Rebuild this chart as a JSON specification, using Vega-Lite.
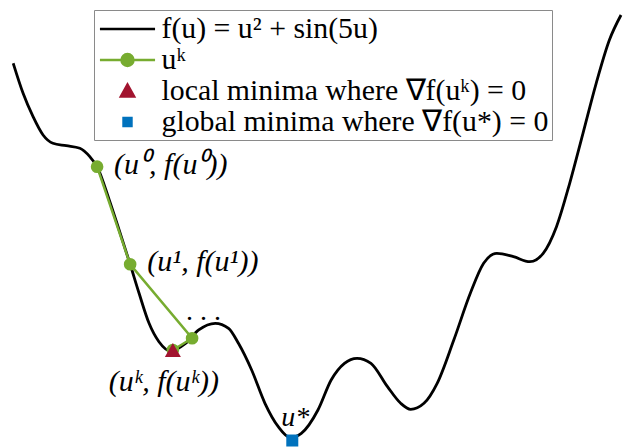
{
  "$schema": "https://vega.github.io/schema/vega-lite/v6.json",
  "width": 627,
  "height": 448,
  "autosize": {"type": "fit", "contains": "padding"},
  "padding": 0,
  "background": "white",
  "config": {"view": {"stroke": null}},
  "datasets": {
    "curve": [
      {"u": -2.955, "f": 8.565}, {"u": -2.860, "f": 7.805}, {"u": -2.764, "f": 7.213},
      {"u": -2.668, "f": 6.749}, {"u": -2.573, "f": 6.539}, {"u": -2.445, "f": 6.478},
      {"u": -2.314, "f": 6.413}, {"u": -2.218, "f": 6.200}, {"u": -2.148, "f": 5.947},
      {"u": -2.031, "f": 5.104}, {"u": -1.936, "f": 4.344}, {"u": -1.830, "f": 3.476},
      {"u": -1.744, "f": 2.742}, {"u": -1.648, "f": 1.982}, {"u": -1.553, "f": 1.516},
      {"u": -1.441, "f": 1.281}, {"u": -1.297, "f": 1.476}, {"u": -1.170, "f": 1.813},
      {"u": -1.011, "f": 1.982}, {"u": -0.883, "f": 1.856}, {"u": -0.788, "f": 1.476},
      {"u": -0.661, "f": 0.800}, {"u": -0.533, "f": -0.043}, {"u": -0.405, "f": -0.635},
      {"u": -0.291, "f": -0.909}, {"u": -0.183, "f": -0.803}, {"u": -0.023, "f": -0.213},
      {"u": 0.104, "f": 0.547}, {"u": 0.232, "f": 0.970}, {"u": 0.353, "f": 1.096},
      {"u": 0.487, "f": 0.970}, {"u": 0.646, "f": 0.377}, {"u": 0.773, "f": -0.043},
      {"u": 0.869, "f": -0.195}, {"u": 0.997, "f": -0.043}, {"u": 1.124, "f": 0.463},
      {"u": 1.284, "f": 1.559}, {"u": 1.443, "f": 2.742}, {"u": 1.571, "f": 3.501},
      {"u": 1.698, "f": 3.754}, {"u": 1.858, "f": 3.668}, {"u": 2.016, "f": 3.542},
      {"u": 2.144, "f": 3.754}, {"u": 2.272, "f": 4.428}, {"u": 2.399, "f": 5.527},
      {"u": 2.527, "f": 6.792}, {"u": 2.654, "f": 8.058}, {"u": 2.781, "f": 9.154},
      {"u": 2.893, "f": 9.787}
    ],
    "markers": [
      {"k": 0, "u": -2.148, "f": 5.947, "series": "uᵏ", "note": "(u⁰, f(u⁰))"},
      {"k": 1, "u": -1.830, "f": 3.476, "series": "uᵏ", "note": "(u¹, f(u¹))"},
      {"k": 2, "u": -1.234, "f": 1.603, "series": "uᵏ", "note": ". . ."},
      {"k": 3, "u": -1.419, "f": 1.306, "series": "uᵏ", "note": "(uᵏ, f(uᵏ))"},
      {"k": 4, "u": -1.419, "f": 1.306, "series": "local minima where ∇f(uᵏ) = 0", "note": ""},
      {"k": 5, "u": -0.270, "f": -0.985, "series": "global minima where ∇f(u*) = 0", "note": "u*"}
    ]
  },
  "encoding": {
    "x": {"field": "u", "type": "quantitative", "axis": null,
          "scale": {"domain": [-3.0822, 2.912], "nice": false, "zero": false}},
    "y": {"field": "f", "type": "quantitative", "axis": null,
          "scale": {"domain": [-1.1747, 10.167], "nice": false, "zero": false}}
  },
  "layer": [
    {
      "data": {"name": "curve"},
      "mark": {"type": "line", "color": "#000000", "strokeWidth": 2.8, "interpolate": "monotone"}
    },
    {
      "data": {"name": "markers"},
      "transform": [{"filter": "datum.k <= 3"}],
      "mark": {"type": "line", "color": "#77AC30", "strokeWidth": 2.5},
      "encoding": {"order": {"field": "k", "type": "quantitative"}}
    },
    {
      "data": {"name": "markers"},
      "transform": [{"filter": "datum.k <= 3"}],
      "mark": {"type": "point", "shape": "circle", "filled": true, "size": 160, "opacity": 1, "color": "#77AC30"}
    },
    {
      "data": {"name": "markers"},
      "transform": [{"filter": "datum.k == 4"}],
      "mark": {"type": "point", "shape": "triangle-up", "filled": true, "size": 256, "opacity": 1, "color": "#A2142F"}
    },
    {
      "data": {"name": "markers"},
      "transform": [{"filter": "datum.k == 5"}],
      "mark": {"type": "point", "shape": "square", "filled": true, "size": 144, "opacity": 1, "color": "#0072BD"}
    },
    {
      "description": "Key: hidden points that carry the fill, stroke and shape scales for the legend.",
      "data": {"name": "markers"},
      "mark": {"type": "point", "filled": true, "opacity": 0, "size": 841},
      "encoding": {
        "fill": {
          "field": "series", "type": "nominal",
          "scale": {
            "domain": ["f(u) = u² + sin(5u)", "uᵏ", "local minima where ∇f(uᵏ) = 0", "global minima where ∇f(u*) = 0"],
            "range": ["#000000", "#77AC30", "#A2142F", "#0072BD"]
          },
          "legend": {
            "orient": "none", "legendX": 94, "legendY": 10,
            "title": null, "padding": 3, "rowPadding": 0,
            "symbolSize": 841, "symbolStrokeWidth": 2.6, "symbolOpacity": 1,
            "symbolOffset": 14.5, "labelOffset": 18,
            "labelFont": "Liberation Serif", "labelFontSize": 29.8, "labelColor": "#000000", "labelLimit": 0,
            "strokeColor": "#8a8a8a", "fillColor": "#ffffff"
          }
        },
        "stroke": {
          "field": "series", "type": "nominal",
          "scale": {
            "domain": ["f(u) = u² + sin(5u)", "uᵏ", "local minima where ∇f(uᵏ) = 0", "global minima where ∇f(u*) = 0"],
            "range": ["#000000", "#77AC30", "#A2142F", "#0072BD"]
          },
          "legend": {
            "orient": "none", "legendX": 94, "legendY": 10,
            "title": null, "padding": 3, "rowPadding": 0,
            "symbolSize": 841, "symbolStrokeWidth": 2.6, "symbolOpacity": 1,
            "symbolOffset": 14.5, "labelOffset": 18,
            "labelFont": "Liberation Serif", "labelFontSize": 29.8, "labelColor": "#000000", "labelLimit": 0,
            "strokeColor": "#8a8a8a", "fillColor": "#ffffff"
          }
        },
        "shape": {
          "field": "series", "type": "nominal",
          "scale": {
            "domain": ["f(u) = u² + sin(5u)", "uᵏ", "local minima where ∇f(uᵏ) = 0", "global minima where ∇f(u*) = 0"],
            "range": [
              "M-1.9,0H1.9",
              "M-1.9,0H1.9M0.41,0A0.41,0.41 0 1 1 -0.41,0A0.41,0.41 0 1 1 0.41,0Z",
              "M0,-0.44L-0.45,0.37L0.45,0.37Z",
              "M-0.27,-0.27H0.27V0.27H-0.27Z"
            ]
          },
          "legend": {
            "orient": "none", "legendX": 94, "legendY": 10,
            "title": null, "padding": 3, "rowPadding": 0,
            "symbolSize": 841, "symbolStrokeWidth": 2.6, "symbolOpacity": 1,
            "symbolOffset": 14.5, "labelOffset": 18,
            "labelFont": "Liberation Serif", "labelFontSize": 29.8, "labelColor": "#000000", "labelLimit": 0,
            "strokeColor": "#8a8a8a", "fillColor": "#ffffff"
          }
        }
      }
    },
    {
      "data": {"name": "markers"},
      "transform": [{"filter": "datum.k <= 1"}],
      "mark": {"type": "text", "align": "left", "baseline": "middle", "dx": 17, "dy": -2,
               "font": "Liberation Serif", "fontStyle": "italic", "fontSize": 30, "color": "#000000"},
      "encoding": {"text": {"field": "note"}}
    },
    {
      "data": {"name": "markers"},
      "transform": [{"filter": "datum.k == 2"}],
      "mark": {"type": "text", "align": "center", "baseline": "alphabetic", "dx": 11.5, "dy": -18,
               "font": "Liberation Serif", "fontSize": 28, "color": "#000000"},
      "encoding": {"text": {"field": "note"}}
    },
    {
      "data": {"name": "markers"},
      "transform": [{"filter": "datum.k == 3"}],
      "mark": {"type": "text", "align": "center", "baseline": "middle", "dx": -9, "dy": 32,
               "font": "Liberation Serif", "fontStyle": "italic", "fontSize": 30, "color": "#000000"},
      "encoding": {"text": {"field": "note"}}
    },
    {
      "data": {"name": "markers"},
      "transform": [{"filter": "datum.k == 5"}],
      "mark": {"type": "text", "align": "center", "baseline": "alphabetic", "dx": 3, "dy": -14.5,
               "font": "Liberation Serif", "fontStyle": "italic", "fontSize": 28, "color": "#000000"},
      "encoding": {"text": {"field": "note"}}
    }
  ]
}
